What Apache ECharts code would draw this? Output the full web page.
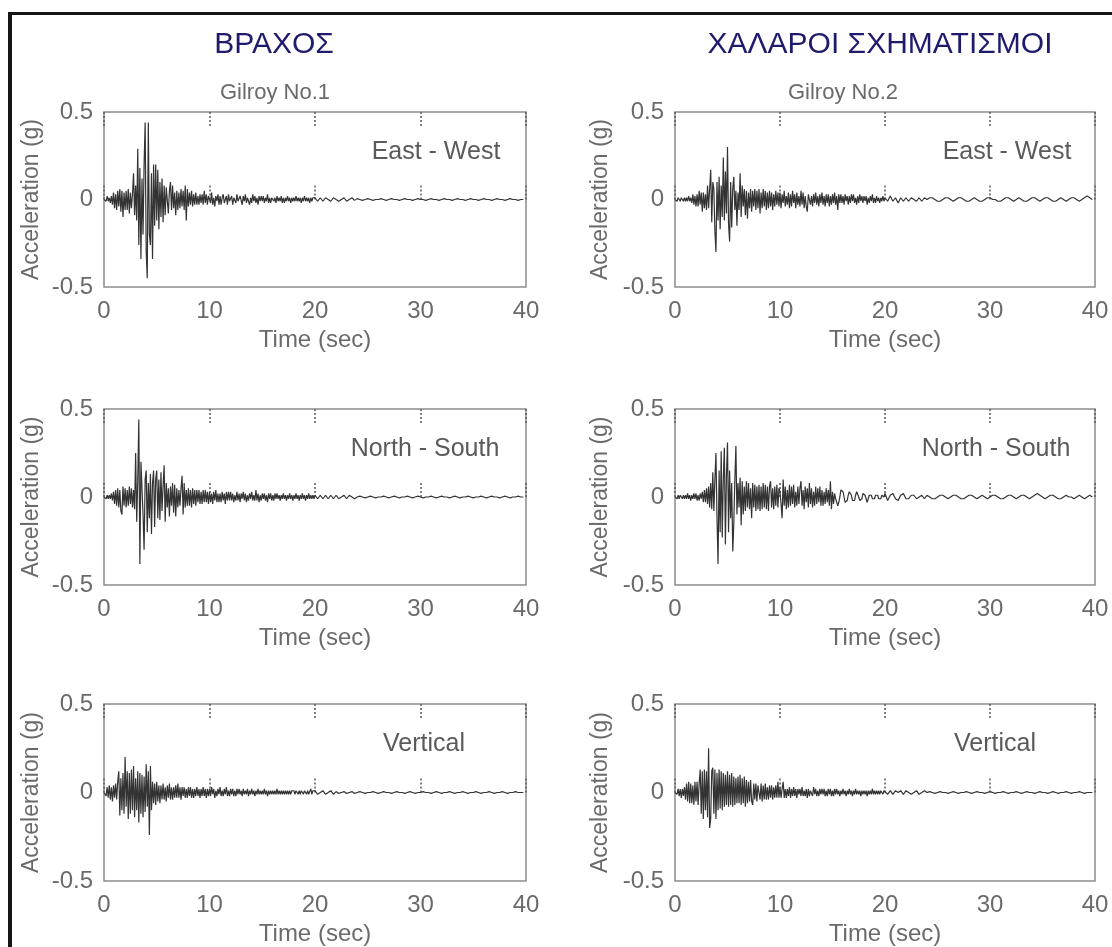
<!DOCTYPE html>
<html>
<head>
<meta charset="utf-8">
<title>Gilroy accelerograms</title>
<script src="https://cdn.jsdelivr.net/npm/echarts@6/dist/echarts.min.js"></script>
<style>
  html, body { margin: 0; padding: 0; background: #ffffff; }
  #chart { width: 1112px; height: 947px; }
</style>
</head>
<body>
<div id="chart"></div>
<script>
// Ground acceleration records, in hundredths of g.
// "early" samples run 0.0 .. 19.9 s every 0.1 s, "late" samples 20 .. 39.75 s every 0.25 s.

const columnTitles = ['ΒΡΑΧΟΣ', 'ΧΑΛΑΡΟΙ ΣΧΗΜΑΤΙΣΜΟΙ'];
const stationNames = ['Gilroy No.1', 'Gilroy No.2'];
const componentNames = ['East - West', 'North - South', 'Vertical'];
const timeTicks = [0, 10, 20, 30, 40];
const accelTicks = [-0.5, 0, 0.5];

// Gilroy No.1 (rock), East - West
const rockEwEarly = [
  0, 1, -1, 2, -1, 1, -2, 2, -3, 4,
  -5, 3, -6, 5, -4, 6, -7, 5, -10, 4,
  -6, 5, -6, 6, -8, 4, -5, 3, 15, -9,
  8, -12, 29, -26, 18, -34, 12, -20, 20, 44,
  -30, -45, 44, -20, -26, 15, -34, 20, -15, 20,
  -12, 17, -17, 10, -10, 12, -13, 8, -9, 7,
  7, -8, 5, 10, -6, 8, -5, 4, -9, 5,
  -6, 4, -5, 6, -4, 5, -6, 8, -12, 6,
  -4, 4, -3, 5, -4, 3, -3, 4, -3, 2,
  -3, 3, -2, 3, -3, 5, -2, 3, -3, 2,
  3, -2, 4, -3, 1, -4, 2, -1, 3, -3,
  2, -3, 1, 3, -2, -1, 2, -3, 3, -1,
  -2, 2, -3, 1, 2, -2, 3, -1, -2, 2,
  1, -3, 2, -1, 3, -2, 1, 2, -3, 1,
  -2, 3, -1, 2, -2, 1, -3, 2, -1, 2,
  -1, 2, -2, 1, -1, 3, -2, 1, -2, 1,
  2, -1, 1, -2, 2, -1, 1, -1, 2, -2,
  1, -2, 1, -1, 2, -1, 1, -2, 1, -1,
  1, -1, 2, -1, 1, -1, 1, -2, 1, -1,
  2, -1, 1, -1, 1, -2, 1, -1, 1, 0
];
const rockEwLate = [
  1, -1, 1, -1, 1, 0, -1, 1,
  0, -1, 0, 1, -1, 0, 1, -0.5,
  0.5, 0, -0.5, 0, 0.5, 0, -0.5, 0, 0, 0.5, 0, -0.5, 0, 0.5, 0, 0,
  -0.5, 0, 0.5, 0, 0, -0.5, 0, 0.5, 0, 0, -0.5, 0, 0.5, 0, 0, -0.5,
  0, 0.5, 0, 0, -0.5, 0, 0.5, 0, 0, -0.5, 0, 0.5, 0, 0, -0.5, 0,
  0.5, 0, 0, -0.5, 0, 0.5, 0, 0, -0.5, 0, 0.5, 0, 0, -0.5, 0, 0
];

// Gilroy No.2 (soft soil), East - West
const soilEwEarly = [
  0, 1, -1, 1, 0, -1, 1, 0, -1, 1,
  -1, 1, -1, 2, -1, 1, -2, 3, -3, 2,
  -4, 3, -4, 5, -3, 4, -7, 4, -5, 3,
  -6, 8, -5, 6, 17, -13, 10, 6, -18, -30,
  10, -12, 13, -17, 8, -10, 24, -12, 16, -8,
  30, -14, -24, 10, -16, 6, 13, -6, 5, -15,
  4, -6, 15, -10, 8, -4, 6, -9, 5, -11,
  4, -5, 6, -7, 5, -4, 6, -6, 5, -5,
  6, -8, 4, -5, 6, -4, 5, -6, 4, -5,
  5, -4, 4, -6, 3, -4, 5, -3, 4, -4,
  4, -5, 3, -2, 5, -4, 2, -3, 4, -5,
  3, -4, 5, -2, 3, -5, 4, -3, 2, -4,
  5, -3, 4, -5, 2, -4, -7, 3, 4, -3,
  2, -4, 3, -2, 4, -3, 2, -4, 3, -2,
  4, -3, 2, -4, 3, -2, 3, -4, 2, -3,
  3, -2, 4, -3, 2, -6, 3, -2, 3, -2,
  2, -3, 3, -1, 2, -3, 2, -2, 3, -1,
  3, -2, 1, -3, 2, -2, 3, -1, 2, -2,
  2, -1, 2, -3, 1, -2, 2, -1, 3, -2,
  1, -2, 2, -1, 1, -2, 1, -1, 2, -1
];
const soilEwLate = [
  1, -1, 2, -1, 1, -2, 1, -1,
  1, -1, 1, 0, -1, 1, -1, 1,
  0, 1, 1, 0, -1, -1, 0, 1, 1, 0, -1, 0, 1, 1, 0, -1,
  -1, 0, 1, 0, -1, -1, 0, 1, 1, 0, 0, -1, -1, 0, 1, 1,
  0, -1, 0, 1, 0, -1, -1, 0, 1, 1, 0, -1, 0, 1, 1, 0,
  -1, -1, 0, 1, 0, -1, 0, 1, 1, 0, -1, 0, 1, 2, 1, 0
];

// Gilroy No.1 (rock), North - South
const rockNsEarly = [
  0, 1, -1, 1, -1, 1, -1, 2, -2, 3,
  -4, 4, -5, 5, -6, 4, -8, -10, 6, -5,
  5, -6, 4, -5, 6, -4, 5, -6, 4, -7,
  25, -14, 10, 44, -38, 20, 19, -10, -30, 10,
  15, -20, 8, -12, 13, -21, 8, 15, -17, 10,
  15, -12, 10, -13, 14, -8, 6, 18, -14, 8,
  -6, 5, -11, 6, -5, 8, -9, 7, -11, 5,
  -6, 4, -5, 5, 12, -10, 8, -6, 4, -5,
  5, -5, 4, -6, 5, -4, 4, -5, 4, -3,
  4, -4, 3, -4, 4, -3, 4, -3, 3, -4,
  3, -3, 2, -4, 3, -2, 4, -3, 2, -3,
  2, -3, 3, -2, 2, -4, 3, -2, 3, -2,
  3, -2, 2, -3, 1, -2, 3, -2, 2, -3,
  2, -1, 3, -2, 2, -3, 1, -2, 2, -1,
  3, -2, 1, -2, 4, -2, 2, -3, 1, -2,
  2, -1, 2, -2, 1, -3, 2, -1, 2, -2,
  1, -2, 2, -1, 2, -1, 1, -2, 1, -1,
  2, -1, 1, -2, 1, -1, 2, -1, 1, -2,
  1, -1, 2, -1, 1, -2, 1, -1, 2, -1,
  1, -2, 1, -1, 2, -1, 1, -1, 1, -1
];
const rockNsLate = [
  1, -1, 1, -1, 1, -1, 1, -1,
  1, -1, 0, 1, -1, 1, 0, -1,
  0, 0.5, 0, -0.5, 0, 0.5, 0, -0.5, 0, 0, 0.5, 0, -0.5, 0, 0.5, 0,
  -0.5, 0, 0, 0.5, 0, -0.5, 0, 0.5, 0, -0.5, 0, 0, 0.5, 0, -0.5, 0,
  0.5, 0, 0, -0.5, 0, 0.5, 0, -0.5, 0, 0, 0.5, 0, -0.5, 0, 0, 0.5,
  0, -0.5, 0, 0.5, 0, 0, -0.5, 0, 0.5, 0, -0.5, 0, 0, 0.5, 0, 0
];

// Gilroy No.2 (soft soil), North - South
const soilNsEarly = [
  0, 1, -1, 1, -1, 1, 0, -1, 1, -1,
  1, -1, 2, -1, 1, -2, 1, -1, 2, -1,
  2, -2, 1, -2, 2, -1, 3, -3, 4, -3,
  5, -4, 6, -6, 8, -7, 14, -8, 10, 25,
  -12, -38, 15, -20, 26, -23, 10, 28, -27, 12,
  31, -20, 15, -12, 8, -31, -15, 10, 29, -10,
  8, -6, 11, -16, 9, -10, 6, -8, 9, -6,
  8, -7, 5, -12, 8, -6, 7, -8, 6, -7,
  7, -8, 6, -7, 8, -6, 7, -7, 6, -8,
  6, 9, -6, 5, -7, 6, -5, 7, -6, 5,
  3, -4, -12, 10, -5, 6, -7, 4, -6, 7,
  -5, 6, -4, 7, -6, 3, -5, 6, -4, 5,
  9, -5, 4, -7, 6, -3, 5, -6, 8, -4,
  5, -6, 3, -5, 6, -4, 5, -3, 6, -5,
  4, -5, 3, -4, 5, -3, 4, -5, 9, -7,
  3, -4, 2, -1, -3, -5, -3, 0, 4, 5,
  3, 0, -3, -4, -2, 1, 3, 3, 1, -2,
  -3, -2, 1, 3, 2, 0, -2, -3, -1, 2,
  3, 1, -1, -3, -2, 1, 2, 1, -1, -2,
  -1, 1, 2, 1, -1, -2, -1, 1, 2, 0
];
const soilNsLate = [
  2, -2, 1, 2, -1, -2, 1, 2,
  -1, -1, 1, 1, -1, 0, 1, -1,
  1, 0, -1, -1, 0, 1, 1, 0, -1, 0, 1, 1, 0, -1, -1, 0,
  1, 1, 0, -1, 0, 1, 0, -1, 0, 1, 1, 0, -1, -1, 0, 1,
  1, 0, -1, 0, 1, 1, 0, -1, 0, 1, 2, 1, 0, -1, 0, 1,
  1, 0, -1, -1, 0, 1, 0, 0, -1, 0, 1, 0, -1, 0, 1, 0
];

// Gilroy No.1 (rock), Vertical
const rockVtEarly = [
  0, 1, -2, 3, -3, 4, -4, 3, -5, 4,
  -3, 5, -4, 6, 12, -13, 8, -10, 11, -12,
  20, -8, 12, -15, 11, -12, 13, -10, 15, -14,
  8, -10, 12, -17, 11, -12, 10, -14, 9, -11,
  16, -8, 12, -24, 15, -10, 6, -6, 5, -7,
  6, -5, 4, -6, 4, -4, 5, -4, 3, -5,
  4, -3, 5, -4, 3, -4, 3, -3, 4, -3,
  5, -3, 3, -4, 3, -2, 3, -3, 2, -3,
  3, -2, 3, -3, 2, -3, 2, -2, 3, -2,
  2, -3, 2, -2, 3, -2, 2, -3, 2, -2,
  2, -2, 3, -1, 2, -3, 1, -2, 2, -1,
  3, -2, 1, -2, 2, -1, 3, -2, 1, -2,
  2, -1, 2, -2, 1, -2, 2, -1, 2, -1,
  1, -2, 2, -1, 1, -1, 2, -2, 1, -1,
  2, -1, 1, -2, 1, -1, 2, -1, 1, -1,
  1, -1, 2, -1, 1, -2, 1, -1, 1, -1,
  1, -1, 1, -1, 2, -1, 1, -1, 1, -1,
  1, -1, 1, -1, 1, -1, 1, -1, 1, 0,
  1, -1, 1, 0, -1, 1, -1, 1, 0, -1,
  1, 0, -1, 1, -1, 0, 2, -1, 1, 0
];
const rockVtLate = [
  1, -1, 0, 1, -1, 0, 1, -1,
  0.5, -0.5, 0, 0.5, -0.5, 0, 0.5, -0.5,
  0, 0.5, 0, -0.5, 0, 0, 0.5, 0, -0.5, 0, 0.5, 0, 0, -0.5, 0, 0.5,
  0, 0, -0.5, 0, 0.5, 0, -0.5, 0, 0, 0.5, 0, 0, -0.5, 0, 0.5, 0,
  -0.5, 0, 0, 0.5, 0, -0.5, 0, 0, 0.5, 0, -0.5, 0, 0, 0.5, 0, -0.5,
  0, 0, 0.5, 0, -0.5, 0, 0, 0.5, 0, -0.5, 0, 0, 0.5, 0, 0, 0
];

// Gilroy No.2 (soft soil), Vertical
const soilVtEarly = [
  0, 1, -1, 2, -2, 2, -3, 2, -2, 3,
  -4, 5, -5, 6, -6, 5, -6, 4, -7, 6,
  -5, 6, -7, 5, 13, -12, 12, -15, 13, -10,
  12, -14, 25, -20, -15, 12, 14, -12, 13, -15,
  11, -10, 13, -9, 12, -10, 11, -8, 10, -7,
  12, -8, 10, -7, 11, -8, 9, -7, 8, -6,
  9, -6, 10, -7, 8, -6, 9, -8, 7, -6,
  6, -5, 7, -5, -7, 5, -4, 5, -5, 4,
  5, -4, 5, -5, 4, -4, 5, -4, 3, -4,
  4, -3, 4, -4, 3, -3, 4, -3, 6, -3,
  3, -3, 2, 6, -3, 2, -3, 2, -2, 3,
  -3, 2, -2, 3, -2, 2, -3, 2, -1, 2,
  -2, 3, -2, 1, -2, 2, -3, 2, -2, 1,
  2, -2, 3, -1, 2, -2, 1, -2, 2, -1,
  2, -1, 2, -2, 1, -2, 2, -1, 2, -2,
  1, -2, 2, -1, 2, -1, 1, -2, 1, -1,
  2, -1, 1, -2, 1, -1, 2, -1, 1, -2,
  1, -1, 2, -1, 1, -1, 1, -2, 1, -1,
  1, -1, 1, -2, 1, -1, 1, -1, 2, -1,
  1, -1, 1, -1, 1, -1, 1, 0, -1, 1
];
const soilVtLate = [
  1, -1, 1, -1, 1, 0, 1, -1,
  1, 0, -1, 0, 1, -1, 0, 1,
  0, 0.5, 0, -0.5, 0, 0.5, 0, 0, -0.5, 0, 0.5, 0, -0.5, 0, 0, 0.5,
  0, -0.5, 0, 0.5, 0, 0, -0.5, 0, 0.5, 0, -0.5, 0, 0, 0.5, 0, -0.5,
  0, 0, 0.5, 0, -0.5, 0, 0.5, 0, 0, -0.5, 0, 0.5, 0, 0, -0.5, 0,
  0.5, 0, -0.5, 0, 0, 0.5, 0, -0.5, 0, 0, 0.5, 0, -0.5, 0, 0, 0
];

const EARLY_STEP = 0.1;
const LATE_START = 20;
const LATE_STEP = 0.25;

// Pair each sample with its time stamp and convert hundredths of g to g.
function toSeries(early, late) {
  const pts = [];
  early.forEach((v, i) => pts.push([+(i * EARLY_STEP).toFixed(2), v / 100]));
  late.forEach((v, i) => pts.push([LATE_START + i * LATE_STEP, v / 100]));
  return pts;
}

const FONT = "'Liberation Sans', Arial, Helvetica, sans-serif";
const TEXT_GREY = '#6a6a6a';
const LABEL_GREY = '#5a5a5a';
const TRACE = '#333333';

// column 0 = rock (Gilroy No.1), column 1 = soft soil (Gilroy No.2)
const columns = [
  { left: 104, width: 422, nameGap: 61 },
  { left: 675, width: 420, nameGap: 63 }
];
const rows = [
  { top: 112, height: 175, labelDx: 332 },
  { top: 409, height: 176, labelDx: 321 },
  { top: 704, height: 177, labelDx: 320 }
];

const panels = [
  { col: 0, row: 0, data: toSeries(rockEwEarly, rockEwLate), label: componentNames[0] },
  { col: 1, row: 0, data: toSeries(soilEwEarly, soilEwLate), label: componentNames[0] },
  { col: 0, row: 1, data: toSeries(rockNsEarly, rockNsLate), label: componentNames[1] },
  { col: 1, row: 1, data: toSeries(soilNsEarly, soilNsLate), label: componentNames[1] },
  { col: 0, row: 2, data: toSeries(rockVtEarly, rockVtLate), label: componentNames[2] },
  { col: 1, row: 2, data: toSeries(soilVtEarly, soilVtLate), label: componentNames[2] }
];

const tickStyle = { color: '#5a5a5a', type: [2, 2], width: 1.5 };

const grid = [], xAxis = [], yAxis = [], series = [], graphic = [];

panels.forEach((p, i) => {
  const c = columns[p.col], r = rows[p.row];
  grid.push({
    left: c.left, top: r.top, width: c.width, height: r.height,
    show: true, borderColor: '#8c8c8c', borderWidth: 1.5,
    backgroundColor: 'transparent', containLabel: false, outerBoundsMode: 'none'
  });
  // bottom time axis with labels
  xAxis.push({
    type: 'value', gridIndex: i, position: 'bottom',
    min: timeTicks[0], max: timeTicks[timeTicks.length - 1], interval: 10,
    axisLine: { show: false },
    axisTick: { show: true, inside: true, length: 14, lineStyle: tickStyle },
    axisLabel: { color: TEXT_GREY, fontSize: 24, fontFamily: FONT, margin: 12 },
    splitLine: { show: false },
    name: 'Time (sec)', nameLocation: 'middle', nameGap: 41,
    nameTextStyle: { color: TEXT_GREY, fontSize: 24, fontFamily: FONT }
  });
  // top edge carries only the dotted inward ticks
  xAxis.push({
    type: 'value', gridIndex: i, position: 'top',
    min: timeTicks[0], max: timeTicks[timeTicks.length - 1], interval: 10,
    axisLine: { show: false },
    axisTick: { show: true, inside: true, length: 14, lineStyle: tickStyle },
    axisLabel: { show: false },
    splitLine: { show: false }
  });
  yAxis.push({
    type: 'value', gridIndex: i,
    min: accelTicks[0], max: accelTicks[accelTicks.length - 1], interval: 0.5,
    axisLine: { show: false },
    axisTick: { show: false },
    axisLabel: { color: TEXT_GREY, fontSize: 24, fontFamily: FONT, margin: 11 },
    splitLine: { show: false },
    name: 'Acceleration (g)', nameLocation: 'middle', nameGap: c.nameGap,
    nameTextStyle: { color: TEXT_GREY, fontSize: 23, fontFamily: FONT }
  });
  series.push({
    type: 'line', xAxisIndex: 2 * i, yAxisIndex: i,
    data: p.data, showSymbol: false, symbol: 'none',
    lineStyle: { color: TRACE, width: 1.2 },
    silent: true, animation: false
  });
  graphic.push({
    type: 'text', x: c.left + r.labelDx, y: r.top + 40,
    style: {
      text: p.label, fill: LABEL_GREY, font: '25px ' + FONT,
      textAlign: 'center', textVerticalAlign: 'middle'
    }
  });
});

// column headings and station names
[274, 880].forEach((x, k) => {
  graphic.push({
    type: 'text', x: x, y: 45,
    style: {
      text: columnTitles[k], fill: '#1e1b6c', font: '30px ' + FONT,
      textAlign: 'center', textVerticalAlign: 'middle'
    }
  });
});
[275, 843].forEach((x, k) => {
  graphic.push({
    type: 'text', x: x, y: 93,
    style: {
      text: stationNames[k], fill: TEXT_GREY, font: '22px ' + FONT,
      textAlign: 'center', textVerticalAlign: 'middle'
    }
  });
});

// dark frame along the left and top edges of the sheet
graphic.push({ type: 'rect', shape: { x: 8, y: 12, width: 4, height: 935 }, style: { fill: '#151515' } });
graphic.push({ type: 'rect', shape: { x: 8, y: 12, width: 1104, height: 3 }, style: { fill: '#151515' } });

const chart = echarts.init(document.getElementById('chart'), null, { renderer: 'canvas' });
chart.setOption({
  backgroundColor: '#ffffff',
  animation: false,
  grid, xAxis, yAxis, series, graphic
});
</script>
</body>
</html>
